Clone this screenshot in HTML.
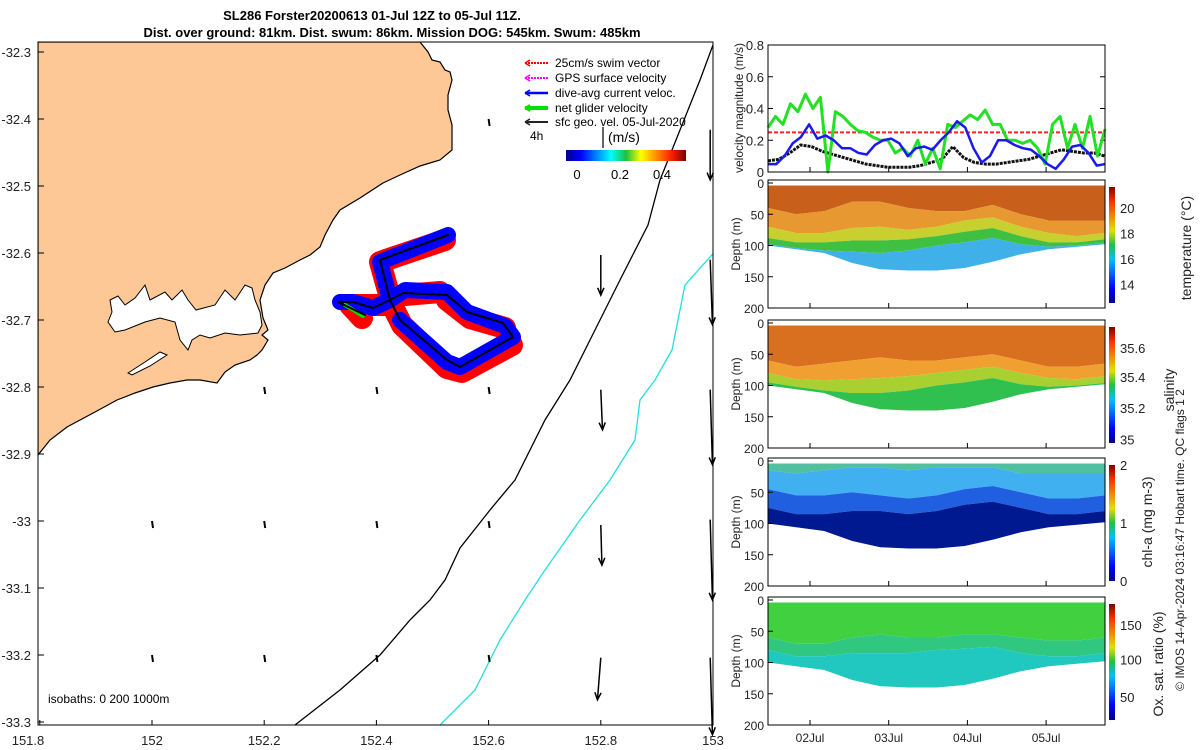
<!DOCTYPE html>
<html><head><meta charset="utf-8">
<style>
html,body{margin:0;padding:0;background:#fff;}
svg{display:block;font-family:"Liberation Sans","DejaVu Sans",sans-serif;}
</style></head>
<body>
<svg id="fig" width="1200" height="750" viewBox="0 0 1200 750" xmlns="http://www.w3.org/2000/svg">
<defs>
<linearGradient id="jetH" x1="0" x2="1" y1="0" y2="0">
<stop offset="0" stop-color="#00008f"/><stop offset="0.125" stop-color="#0000ff"/><stop offset="0.375" stop-color="#00ffff"/><stop offset="0.5" stop-color="#20c040"/><stop offset="0.625" stop-color="#ffff00"/><stop offset="0.875" stop-color="#ff2000"/><stop offset="1" stop-color="#800000"/>
</linearGradient>
<linearGradient id="jetV" x1="0" x2="0" y1="1" y2="0">
<stop offset="0" stop-color="#00008f"/><stop offset="0.125" stop-color="#0000ff"/><stop offset="0.375" stop-color="#00c0ff"/><stop offset="0.5" stop-color="#20c040"/><stop offset="0.625" stop-color="#e0e000"/><stop offset="0.875" stop-color="#ff3000"/><stop offset="1" stop-color="#800000"/>
</linearGradient>
<clipPath id="mapclip"><rect x="38" y="42" width="675" height="683"/></clipPath>
</defs>

<text x="372" y="20" text-anchor="middle" font-size="13" font-weight="bold">SL286 Forster20200613 01-Jul 12Z to 05-Jul 11Z.</text>
<text x="392" y="37" text-anchor="middle" font-size="13" font-weight="bold">Dist. over ground: 81km. Dist. swum: 86km. Mission DOG: 545km. Swum: 485km</text>

<g id="map">
<g clip-path="url(#mapclip)">
<path fill="#fdc896" stroke="#000" stroke-width="1.2" d="M38,42 L420,42 L428,52 L432,60 L440,62 L445,70 L450,72 L452,80 L448,95 L448,110 L452,125 L452,150 L440,160 L420,166 L400,175 L383,183 L360,198 L340,210 L333,220 L325,235 L320,247 L310,255 L300,260 L285,268 L273,273 L265,285 L260,300 L263,318 L268,330 L262,335 L268,340 L262,350 L257,355 L250,360 L235,365 L225,372 L217,383 L200,380 L187,380 L170,383 L153,387 L135,393 L117,400 L95,412 L67,427 L50,440 L38,455 Z"/>
<path fill="#fff" stroke="#000" stroke-width="1" d="M110,300 L118,296 L125,305 L135,298 L145,285 L150,300 L165,292 L172,300 L182,290 L188,300 L196,310 L215,305 L225,290 L235,300 L245,285 L252,288 L255,300 L260,312 L262,325 L258,333 L240,335 L225,333 L210,338 L200,335 L192,340 L188,350 L180,340 L175,322 L160,318 L145,322 L125,330 L115,332 L108,322 L112,312 Z"/>
<path fill="#fff" stroke="#000" stroke-width="1" d="M128,373 L145,362 L160,352 L167,355 L150,366 L132,375 Z"/>
<path fill="none" stroke="#000" stroke-width="1.3" d="M713,45 L700,80 L680,130 L660,180 L648,225 L620,280 L595,330 L570,380 L545,420 L515,480 L490,510 L460,548 L445,580 L430,600 L410,620 L380,655 L340,690 L295,725"/>
<path fill="none" stroke="#22e0e0" stroke-width="1.3" d="M718,248 L685,285 L672,350 L655,380 L640,400 L635,440 L610,480 L580,520 L545,570 L525,600 L500,640 L475,690 L440,725"/>
<g fill="none" stroke-linejoin="round" stroke-linecap="round">
<path stroke="#ff0000" stroke-width="22" d="M445,240 L380,262 L392,305 L402,325 L447,368 L462,372 L512,345 M392,305 L350,305 L362,318 M447,300 L470,318 L505,328 M405,295 L440,292"/>
<path stroke="#0000ff" stroke-width="16" d="M448,235 L380,262 L390,300 L405,290 L447,292 L467,312 L505,326 L513,337 L460,367 L447,362 L400,320 M390,300 L373,308 L353,302 L340,302"/>
<path stroke="#00e000" stroke-width="4" d="M345,305 L363,316"/>
<path stroke="#000" stroke-width="2" d="M448,235 L380,260 L390,300 L400,320 L447,360 L460,367 L513,337 L503,323 L467,312 L447,295 L403,293 L390,300 L373,308 L353,302 L338,302 L365,315"/>
</g>
</g>
<g id="arrows" stroke="#000" stroke-width="1.5" fill="none"></g>
<rect x="38" y="42" width="675" height="683" fill="none" stroke="#000" stroke-width="1"/>
<g id="mapticks" font-size="13" fill="#222"></g>
<text x="48" y="703" font-size="12">isobaths: 0   200  1000m</text>
<g font-size="12">
<g><line x1="525" y1="63" x2="548" y2="63" stroke="#ff0000" stroke-width="2" stroke-dasharray="2,1"/><path d="M525,63 l5,-3 m-5,3 l5,3" stroke="#ff0000" stroke-width="1.5"/><text x="555" y="67">25cm/s swim vector</text></g>
<g><line x1="525" y1="78" x2="548" y2="78" stroke="#ff00ff" stroke-width="2" stroke-dasharray="2,1"/><path d="M525,78 l5,-3 m-5,3 l5,3" stroke="#ff00ff" stroke-width="1.5"/><text x="555" y="82">GPS surface velocity</text></g>
<g><line x1="525" y1="93" x2="548" y2="93" stroke="#0000ff" stroke-width="2.5"/><path d="M525,93 l5,-3 m-5,3 l5,3" stroke="#0000ff" stroke-width="1.5"/><text x="555" y="97">dive-avg current veloc.</text></g>
<g><line x1="525" y1="108" x2="548" y2="108" stroke="#00e000" stroke-width="4"/><path d="M525,108 l5,-3 m-5,3 l5,3" stroke="#00e000" stroke-width="2"/><text x="555" y="112">net glider velocity</text></g>
<g><line x1="525" y1="122" x2="548" y2="122" stroke="#222" stroke-width="2"/><path d="M525,122 l5,-3 m-5,3 l5,3" stroke="#222" stroke-width="1.5"/><text x="555" y="126">sfc geo. vel. 05-Jul-2020</text></g>
<text x="530" y="140">4h</text>
<line x1="603" y1="127" x2="603" y2="148" stroke="#000" stroke-width="1.2"/>
</g>
<g>
<text x="608" y="142" font-size="14">(m/s)</text>
<rect x="566" y="150" width="120" height="11" fill="url(#jetH)"/>
<text x="577" y="179" font-size="13" text-anchor="middle">0</text>
<text x="620" y="179" font-size="13" text-anchor="middle">0.2</text>
<text x="662" y="179" font-size="13" text-anchor="middle">0.4</text>
</g>
</g>

<g id="right"></g>
<text transform="translate(1184,540) rotate(-90)" text-anchor="middle" font-size="12" fill="#222">© IMOS 14-Apr-2024 03:16:47 Hobart time. QC flags 1  2</text>
</svg>

<script>
const NS='http://www.w3.org/2000/svg';
function mk(tag,attrs,parent){const e=document.createElementNS(NS,tag);for(const k in attrs)e.setAttribute(k,attrs[k]);if(parent)parent.appendChild(e);return e;}

const netGliderVel=[0.28,0.35,0.30,0.43,0.38,0.49,0.40,0.47,0.00,0.38,0.35,0.30,0.26,0.25,0.22,0.20,0.20,0.12,0.15,0.10,0.20,0.05,0.15,0.02,0.30,0.28,0.32,0.36,0.33,0.39,0.30,0.30,0.20,0.20,0.18,0.20,0.15,0.05,0.30,0.35,0.15,0.30,0.15,0.35,0.10,0.27];
const diveAvgVel=[0.05,0.05,0.10,0.18,0.22,0.30,0.21,0.23,0.20,0.15,0.15,0.12,0.11,0.17,0.20,0.21,0.18,0.10,0.15,0.16,0.14,0.20,0.25,0.32,0.28,0.15,0.06,0.10,0.20,0.20,0.17,0.15,0.14,0.10,0.05,0.02,0.08,0.16,0.17,0.12,0.04,0.05];
const geoVel=[0.07,0.08,0.12,0.17,0.16,0.13,0.11,0.09,0.07,0.05,0.04,0.03,0.03,0.03,0.04,0.06,0.08,0.16,0.09,0.06,0.05,0.05,0.06,0.07,0.08,0.10,0.12,0.14,0.13,0.12,0.12,0.10];
const swimVel=[0.25,0.25];
const velTicks=[0,0.2,0.4,0.6,0.8];
const dateTicks=['02Jul','03Jul','04Jul','05Jul'];
const dateTickDays=[1,2,3,4];

const bottomDepth=[100,106,112,128,138,140,140,136,126,114,106,102,98];
const tempBounds=[[40,50,45,30,30,40,45,45,35,50,60,60,60],[70,80,80,72,70,75,70,60,55,70,80,85,80],[88,95,95,92,92,90,85,78,72,85,95,95,90],[98,104,108,110,112,108,100,95,88,98,102,100,96]];
const tempColors=['#c8601c','#e89830','#c8d030','#40c040','#40b0e8'];
const salBounds=[[60,70,65,60,55,60,60,55,50,60,70,70,65],[80,90,92,90,88,85,80,75,70,80,88,90,85],[95,102,108,112,112,108,100,95,88,98,102,100,96]];
const salColors=['#d87020','#f0a030','#a8d030','#30c050'];
const chlBounds=[[15,20,15,10,10,15,10,10,10,20,20,20,20],[45,55,55,50,55,60,55,45,40,50,60,60,55],[75,85,85,80,80,85,80,70,65,75,85,85,80]];
const chlColors=['#50c0a0','#40b0f0','#2060e0','#001890'];
const oxBounds=[[60,70,70,60,55,60,60,55,55,60,65,65,60],[80,90,90,85,85,85,80,78,75,85,90,90,85]];
const oxColors=['#40d040','#30c880','#20c8c0'];

const arrowLon=[152.8,152.8,152.8,152.8,152.995,152.995,152.995,152.995,152.995];
const arrowLat=[-32.603,-32.804,-33.006,-33.204,-32.416,-32.61,-32.804,-32.998,-33.204];
const arrowDLon=[0.0,0.003,0.002,-0.006,0.0,0.004,0.004,0.004,0.004];
const arrowDLat=[-0.06,-0.06,-0.06,-0.063,-0.075,-0.097,-0.112,-0.12,-0.115];
const smallLon=[152.2,152.4,152.6,152.0,152.2,152.4,152.6,152.0,152.2,152.4,152.6,152.6];
const smallLat=[-32.8,-32.8,-32.8,-33.0,-33.0,-33.0,-33.0,-33.2,-33.2,-33.2,-33.2,-32.4];
const lonTicks=[151.8,152,152.2,152.4,152.6,152.8,153];
const latTicks=[-32.3,-32.4,-32.5,-32.6,-32.7,-32.8,-32.9,-33,-33.1,-33.2,-33.3];

const lonX=l=>152+(l-152)*561;
const latY=l=>52+(-32.3-l)*670;

const mt=document.getElementById('mapticks');
lonTicks.forEach(v=>{
  const x=lonX(v);
  const t=mk('text',{x:x<40?28:x,y:745,'text-anchor':'middle'},mt);
  t.textContent=String(v);
  
  
  mk('line',{x1:x,y1:725,x2:x,y2:720,stroke:'#000'},mt);
});
latTicks.forEach(v=>{
  const y=latY(v);
  const t=mk('text',{x:31,y:y+5,'text-anchor':'end'},mt);
  t.textContent=String(v);
  
  
  mk('line',{x1:38,y1:y,x2:44,y2:y,stroke:'#000'},mt);
});
const ag=document.getElementById('arrows');
arrowLon.forEach((lo,i)=>{
  const x1=lonX(lo),y1=latY(arrowLat[i]);
  const x2=lonX(lo+arrowDLon[i]),y2=latY(arrowLat[i]+arrowDLat[i]);
  const a=Math.atan2(y2-y1,x2-x1);
  const p=mk('path',{d:`M${x1},${y1} L${x2},${y2} M${x2-8*Math.cos(a-0.4)},${y2-8*Math.sin(a-0.4)} L${x2},${y2} L${x2-8*Math.cos(a+0.4)},${y2-8*Math.sin(a+0.4)}`},ag);
  
  
});
smallLon.forEach((lo,i)=>{
  const x=lonX(lo),y=latY(smallLat[i]);
  const p=mk('path',{d:`M${x},${y} L${x+1},${y+7}`,'stroke-width':2},ag);
  
  
});

const R=document.getElementById('right');
const PX0=768,PX1=1105;
const dayX=d=>810+(d-1)*78.7;
(function(){
  const y0=172,y1=45;
  const vy=v=>y0-(v/0.8)*(y0-y1);
  const g=mk('g',{},R);
  
  
  velTicks.forEach(v=>{
    const t=mk('text',{x:764,y:vy(v)+5,'text-anchor':'end','font-size':13,fill:'#222'},g);
    t.textContent=String(v);
    
    
    mk('line',{x1:PX0,y1:vy(v),x2:PX0+5,y2:vy(v),stroke:'#000'},g);
    mk('line',{x1:PX1,y1:vy(v),x2:PX1-5,y2:vy(v),stroke:'#000'},g);
  });
  const yl=mk('text',{transform:'translate(743,108) rotate(-90)','text-anchor':'middle','font-size':12,fill:'#222'},g);
  yl.textContent='velocity magnitude (m/s)';
  
  
  function line(arr,color,w,dash,name){
    const pts=arr.map((v,i)=>`${PX0+i*(PX1-PX0)/(arr.length-1)},${vy(v)}`).join(' ');
    const p=mk('polyline',{points:pts,fill:'none',stroke:color,'stroke-width':w,'stroke-linejoin':'round'},g);
    if(dash)p.setAttribute('stroke-dasharray',dash);
    
    
  }
  line(swimVel,'#ff2020',2,'4,2','swim-speed-line');
  line(geoVel,'#111',3,'3,1','geo-velocity-line');
  line(netGliderVel,'#22e022',3,null,'net-glider-velocity-line');
  line(diveAvgVel,'#1a1aee',2.5,null,'dive-avg-velocity-line');
  mk('rect',{x:PX0,y:y1,width:PX1-PX0,height:y0-y1,fill:'none',stroke:'#000'},g);
  dateTickDays.forEach(d=>{mk('line',{x1:dayX(d),y1:y0,x2:dayX(d),y2:y0-5,stroke:'#000'},g);});
})();

function section(top,bounds,colors,name,cbLabel,cbTicks,cbPos,labelX,labelY){
  const y0=top+3,h=128;
  const dy=d=>y0+d*(h-3)/200;
  const g=mk('g',{},R);
  
  
  const n=bottomDepth.length;
  const cx=i=>PX0+i*(PX1-PX0)/(n-1);
  const layers=[Array(n).fill(4)].concat(bounds).concat([bottomDepth]);
  for(let L=0;L<layers.length-1;L++){
    const upper=layers[L],lower=layers[L+1];
    let d='M'+upper.map((v,i)=>`${cx(i)},${dy(Math.min(v,bottomDepth[i]))}`).join(' L');
    d+=' L'+lower.slice().reverse().map((v,k)=>{const i=n-1-k;return `${cx(i)},${dy(Math.min(v,bottomDepth[i]))}`;}).join(' L')+' Z';
    const p=mk('path',{d:d,fill:colors[L]},g);
    
    
  }
  mk('rect',{x:PX0,y:top,width:PX1-PX0,height:h,fill:'none',stroke:'#000'},g);
  [0,50,100,150,200].forEach(v=>{
    const t=mk('text',{x:764,y:dy(v)+5,'text-anchor':'end','font-size':12,fill:'#222'},g);
    t.textContent=String(v);
    
    
    mk('line',{x1:PX0,y1:dy(v),x2:PX0+5,y2:dy(v),stroke:'#000'},g);
  });
  dateTickDays.forEach(d=>{mk('line',{x1:dayX(d),y1:top+h,x2:dayX(d),y2:top+h-5,stroke:'#000'},g);});
  const yl=mk('text',{transform:`translate(740,${top+h/2}) rotate(-90)`,'text-anchor':'middle','font-size':12,fill:'#222'},g);
  yl.textContent='Depth (m)';
  
  
  mk('rect',{x:1109,y:top+7,width:6,height:h-12,fill:'url(#jetV)'},g);
  cbTicks.forEach((t,i)=>{
    const tx=mk('text',{x:1120,y:top+7+(h-12)*(1-cbPos[i])+5,'font-size':13,fill:'#222'},g);
    tx.textContent=t;
    
    
  });
  const cl=mk('text',{transform:`translate(${labelX},${labelY}) rotate(-90)`,'text-anchor':'middle','font-size':14,fill:'#222'},g);
  cl.textContent=cbLabel;
  
  
}
section(180,tempBounds,tempColors,'temperature-section','temperature (°C)',['20','18','16','14'],[0.82,0.6,0.38,0.16],1191,248);
section(320,salBounds,salColors,'salinity-section','salinity',['35.6','35.4','35.2','35'],[0.82,0.57,0.3,0.03],1174,390);
section(458,chlBounds,chlColors,'chl-section','chl-a (mg m-3)',['2','1','0'],[1,0.5,0],1152,522);
section(597,oxBounds,oxColors,'oxygen-section','Ox. sat. ratio (%)',['150','100','50'],[0.82,0.52,0.2],1163,664);

dateTicks.forEach((t,i)=>{
  const tx=mk('text',{x:dayX(dateTickDays[i]),y:742,'text-anchor':'middle','font-size':12,fill:'#222'},R);
  tx.textContent=t;
  
  
});
</script>
</body></html>
